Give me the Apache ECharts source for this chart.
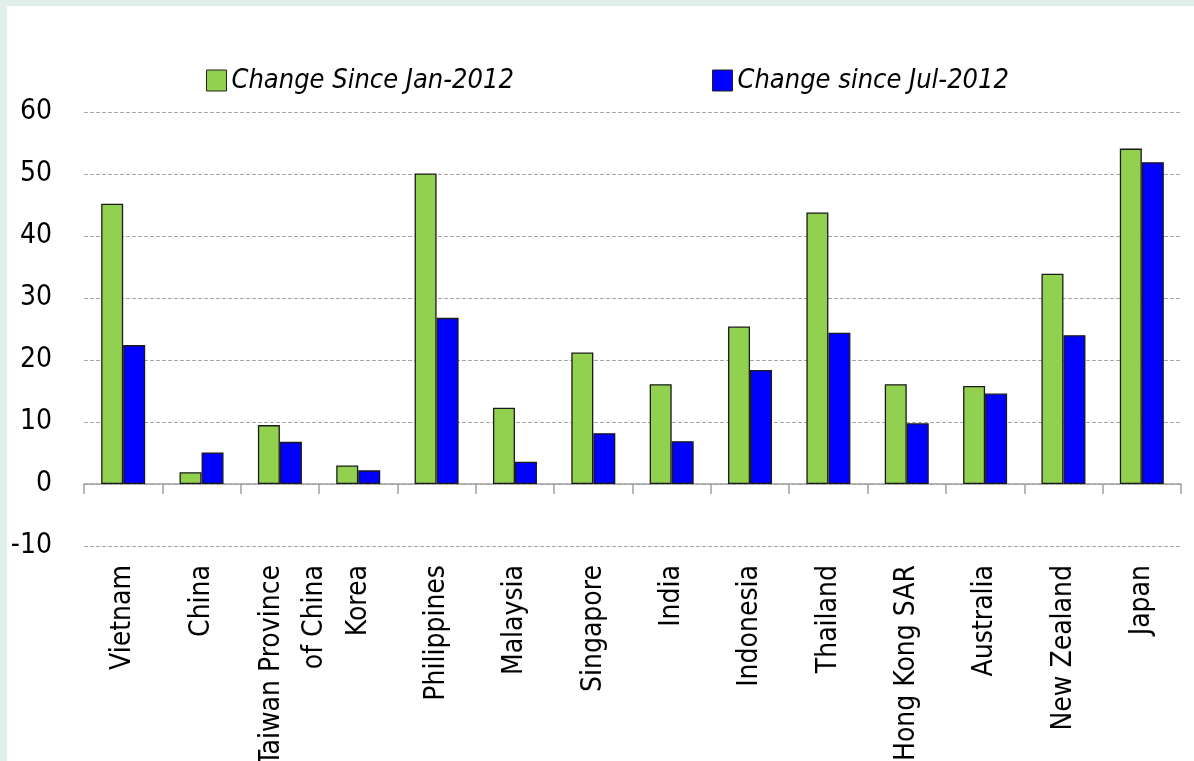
<!DOCTYPE html>
<html>
<head>
<meta charset="utf-8">
<title>Change since 2012</title>
<script src="https://cdn.jsdelivr.net/npm/echarts@6/dist/echarts.min.js"></script>
<style>
  html, body { margin: 0; padding: 0; background: #e0f0e8; }
  #main {
    width: 1187px; height: 755px;
    margin-left: 7px; margin-top: 6px;
    background: #ffffff;
  }
</style>
</head>
<body>
<div id="main"></div>
<script>
// categories along the x axis
var countries = ['Vietnam', 'China', 'Taiwan Province\nof China', 'Korea', 'Philippines', 'Malaysia',
  'Singapore', 'India', 'Indonesia', 'Thailand', 'Hong Kong SAR', 'Australia', 'New Zealand', 'Japan'];

// series names
var nameJan = 'Change Since Jan-2012';
var nameJul = 'Change since Jul-2012';

// values
var sinceJan = [45.2, 1.9, 9.5, 3.0, 50.1, 12.3, 21.2, 16.1, 25.4, 43.8, 16.1, 15.8, 33.9, 54.1];
var sinceJul = [22.4, 5.1, 6.8, 2.2, 26.8, 3.6, 8.2, 6.9, 18.4, 24.4, 9.8, 14.6, 24.0, 51.9];

// no narrow font here, so use the condensed DejaVu face
var font = '"DejaVu Sans Condensed", "DejaVu Sans", sans-serif';
var narrow = 'condensed';

var chart = echarts.init(document.getElementById('main'), null, { renderer: 'canvas' });

//标签数据，台湾那一项两行要单独调
var catData = countries.map(function (c) {
  if (c.indexOf('\n') >= 0) {
    return { value: c, textStyle: { lineHeight: 43 } };
  }
  return c;
});

var legendText = { fontFamily: font, fontWeight: narrow, fontStyle: 'italic', fontSize: 27, color: '#000' };

var option = {
  animation: false,
  backgroundColor: 'transparent',
  textStyle: { fontFamily: font },
  legend: [
    {
      data: [nameJan],
      left: 194, top: 56,
      icon: 'rect', itemWidth: 20, itemHeight: 21, itemGap: 6,
      itemStyle: { borderColor: '#222', borderWidth: 1 },
      textStyle: legendText
    },
    {
      data: [nameJul],
      left: 700, top: 56,
      icon: 'rect', itemWidth: 20, itemHeight: 21, itemGap: 6,
      itemStyle: { borderColor: '#222', borderWidth: 1 },
      textStyle: legendText
    }
  ],
  grid: { left: 77, right: 13, top: 106, bottom: 215, outerBoundsMode: 'none', containLabel: false },
  xAxis: {
    type: 'category',
    data: catData,
    axisLine: { onZero: true, lineStyle: { color: '#a0a0a0', width: 1.5 } },
    axisTick: { show: true, length: 10, lineStyle: { color: '#a0a0a0', width: 1.5 } },
    axisLabel: {
      rotate: 90, margin: 19, interval: 0,
      fontFamily: font, fontWeight: narrow, fontSize: 28, color: '#000',
      // 两行标签往右挪一点：前面垫一个空行
      formatter: function (v) {
        return v.indexOf('\n') >= 0 ? '{g| }\n' + v : v;
      },
      rich: { g: { fontSize: 8, height: 27, lineHeight: 27 } }
    }
  },
  yAxis: {
    type: 'value',
    min: -10, max: 60, interval: 10,
    axisLine: { show: false },
    axisTick: { show: false },
    axisLabel: { margin: 32, fontFamily: font, fontWeight: narrow, fontSize: 28, color: '#000' },
    splitLine: { lineStyle: { color: '#a6a6a6', type: [4, 2], width: 1 } }
  },
  series: [
    {
      name: nameJan, type: 'bar',
      data: sinceJan,
      barWidth: 22, barGap: '0%',
      itemStyle: { color: '#92d050', borderColor: '#1a1a1a', borderWidth: 1.3 }
    },
    {
      name: nameJul, type: 'bar',
      data: sinceJul,
      barWidth: 22, barGap: '0%',
      itemStyle: { color: '#0000ff', borderColor: '#1a1a1a', borderWidth: 1.3 }
    }
  ]
};

chart.setOption(option);
</script>
</body>
</html>
